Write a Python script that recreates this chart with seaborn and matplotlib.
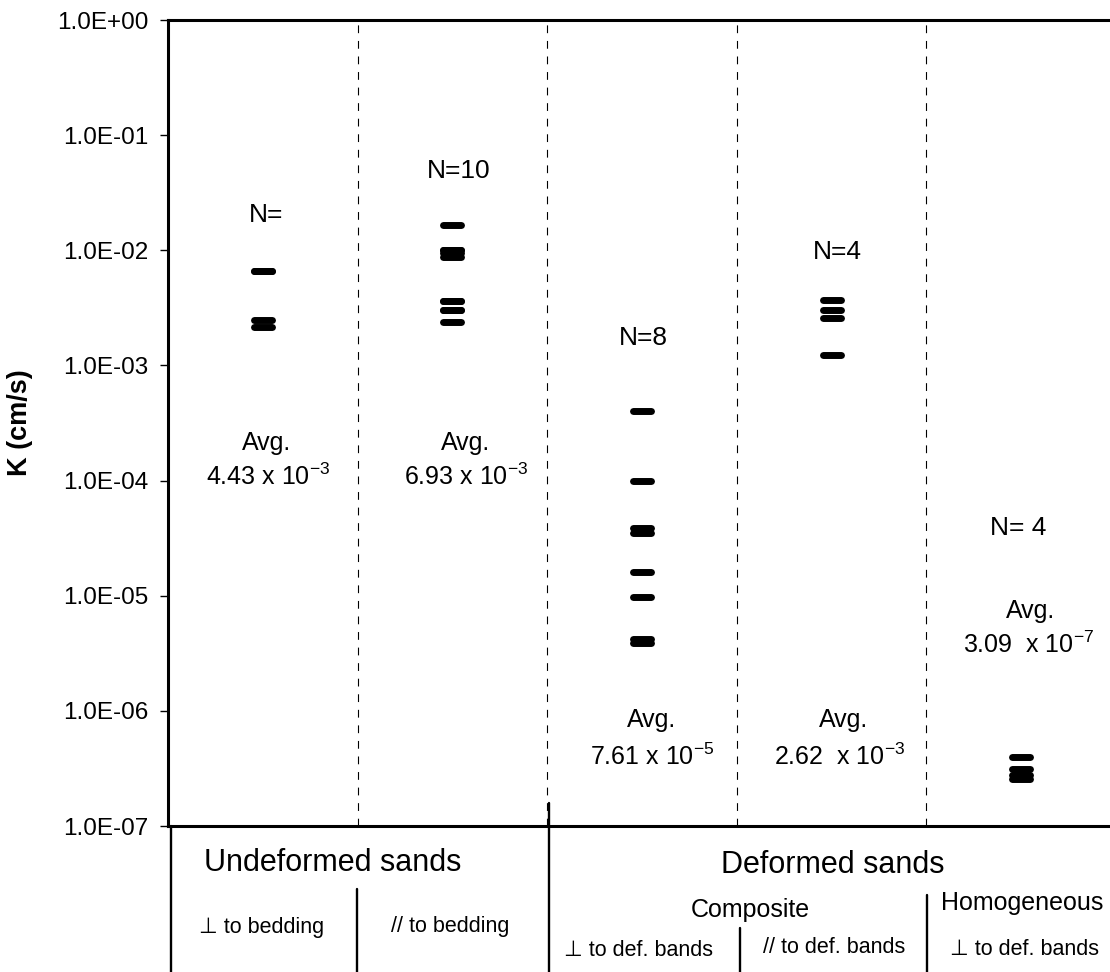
import numpy as np
import pandas as pd
import matplotlib
matplotlib.use("Agg")
import matplotlib.pyplot as plt
import seaborn as sns
from matplotlib.lines import Line2D
from matplotlib.ticker import FixedLocator, FuncFormatter, NullLocator

# ---------------- data ----------------
categories = ["Undeformed perp", "Undeformed par", "Composite perp",
              "Composite par", "Homogeneous perp"]
k_und_perp = [6.6e-3, 6.6e-3, 2.5e-3, 2.15e-3]
k_und_par = [1.66e-2, 1.01e-2, 1.01e-2, 9.4e-3, 8.8e-3,
             3.6e-3, 3.6e-3, 3.05e-3, 3.05e-3, 2.4e-3]
k_comp_perp = [4.0e-4, 1.0e-4, 3.9e-5, 3.5e-5, 1.6e-5, 9.8e-6, 4.2e-6, 3.9e-6]
k_comp_par = [3.7e-3, 3.0e-3, 2.6e-3, 1.23e-3]
k_homog_perp = [4.0e-7, 3.1e-7, 2.8e-7, 2.55e-7]

n_labels = ["N=", "N=10", "N=8", "N=4", "N= 4"]
avg_mantissa = ["4.43", "6.93", "7.61", "2.62 ", "3.09 "]
avg_exponent = [-3, -3, -5, -3, -7]

y_ticks = [1e-7, 1e-6, 1e-5, 1e-4, 1e-3, 1e-2, 1e-1, 1e0]

# ---------------- build table ----------------
series = [k_und_perp, k_und_par, k_comp_perp, k_comp_par, k_homog_perp]
df = pd.DataFrame({
    "group": np.concatenate([[c] * len(s) for c, s in zip(categories, series)]),
    "K": np.concatenate(series),
})

# ---------------- style ----------------
sns.set_theme(style="white")
plt.rcParams["font.family"] = ["Liberation Sans", "DejaVu Sans"]
plt.rcParams["mathtext.fontset"] = "custom"
plt.rcParams["mathtext.rm"] = "Liberation Sans"
plt.rcParams["mathtext.it"] = "Liberation Sans:italic"
plt.rcParams["mathtext.bf"] = "Liberation Sans:bold"
plt.rcParams["mathtext.default"] = "regular"

W, H = 1110, 972
fig = plt.figure(figsize=(W / 100, H / 100), dpi=100)
fig.patch.set_facecolor("white")

def fx(px):
    return px / W

def fy(py):
    return 1 - py / H

ax = fig.add_axes([fx(168), fy(826), (1116 - 168) / W, (826 - 20) / H])
ax.set_facecolor("white")

sns.stripplot(data=df, x="group", y="K", order=categories, jitter=False,
              marker="_", size=13, linewidth=5, color="black",
              edgecolor="black", ax=ax)
for coll in ax.collections:
    coll.set_capstyle("round")

ax.set_yscale("log")
ax.set_ylim(1e-7, 1e0)
ax.set_xlim(-0.5, len(categories) - 0.5)
ax.yaxis.set_major_locator(FixedLocator(y_ticks))
ax.yaxis.set_minor_locator(NullLocator())
ax.yaxis.set_major_formatter(FuncFormatter(lambda v, p: f"{v:.1E}"))
ax.tick_params(axis="y", which="major", direction="out", length=5.8,
               width=1.0, pad=8.5, labelsize=17.5, colors="black", left=True)
ax.tick_params(axis="x", bottom=False, labelbottom=False)
ax.set_xlabel("")
ax.set_ylabel("K (cm/s)", fontsize=19.5, fontweight="bold", color="black")
ax.yaxis.set_label_coords(-0.1424, 0.5)

for side in ["left", "top", "bottom"]:
    ax.spines[side].set_visible(True)
    ax.spines[side].set_color("black")
    ax.spines[side].set_linewidth(2.2)
ax.spines["right"].set_visible(False)

for xv in [0.5, 1.5, 2.5, 3.5]:
    ax.axvline(xv, color="black", lw=0.8, ls=(0, (7, 7)), zorder=0)

# ---------------- annotations in plot ----------------
n_pos = [(266, 222), (459, 178), (643, 345), (837, 259), (1018, 535)]
avg_pos = [(267, 450), (466, 450), (652, 727), (844, 727), (1031, 618)]
val_pos = [(268, 485), (466, 485), (652, 765), (840, 765), (1029, 653)]
for i in range(len(categories)):
    fig.text(fx(n_pos[i][0]), fy(n_pos[i][1]), n_labels[i], ha="center",
             va="baseline", fontsize=19, color="black")
    fig.text(fx(avg_pos[i][0]), fy(avg_pos[i][1]), "Avg.", ha="center",
             va="baseline", fontsize=18, color="black")
    fig.text(fx(val_pos[i][0]), fy(val_pos[i][1]),
             f"{avg_mantissa[i]} x 10$^{{{avg_exponent[i]}}}$", ha="center",
             va="baseline", fontsize=18, color="black")

# ---------------- category table below ----------------
table_lines = [(171, 826, 972), (549, 803, 972), (357, 889, 972),
               (740, 928, 972), (927, 895, 972)]
for xp, y0, y1 in table_lines:
    fig.add_artist(Line2D([fx(xp), fx(xp)], [fy(y0), fy(y1)],
                          transform=fig.transFigure, color="black", lw=1.7))

table_texts = [
    ("Undeformed sands", 333, 871, 22),
    ("Deformed sands", 833, 873, 22),
    ("\u22a5 to bedding", 262, 933, 15.5),
    ("// to bedding", 450, 932, 15.5),
    ("Composite", 750, 917, 18),
    ("Homogeneous", 1022, 910, 18),
    ("\u22a5 to def. bands", 638, 956, 15.5),
    ("// to def. bands", 834, 953, 15.5),
    ("\u22a5 to def. bands", 1025, 955, 15.5),
]
for s, xp, yp, fs in table_texts:
    fig.text(fx(xp), fy(yp), s, ha="center", va="baseline", fontsize=fs,
             color="black")

fig.savefig("out.png", dpi=100, facecolor="white")
